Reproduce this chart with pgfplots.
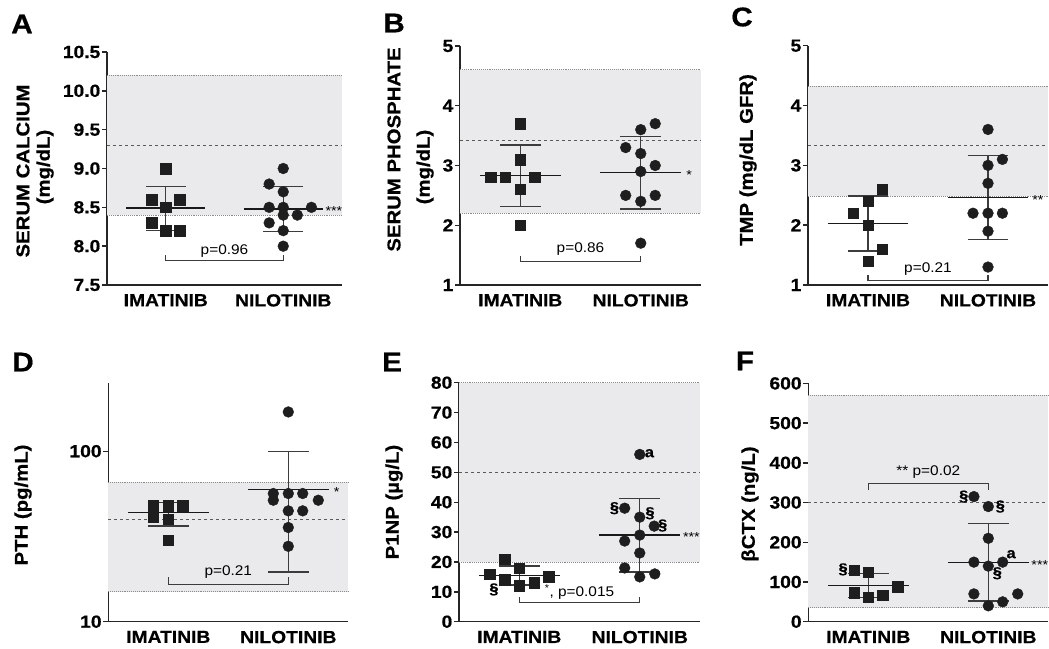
\documentclass[border=0pt]{standalone}
\usepackage{fontspec}
\setmainfont{Liberation Sans}[FakeStretch=1.1, BoldFeatures={FakeBold=0.6}]
\usepackage{pgfplots}
\pgfplotsset{compat=1.18}

\definecolor{mk}{HTML}{1E1E1E}
\definecolor{band}{HTML}{EAEAEC}
\definecolor{dots}{HTML}{8C8C8C}
\definecolor{dash}{HTML}{5A5A5A}
\definecolor{bar}{HTML}{3C3C3C}

\pgfplotsset{
  panel/.style={scale only axis, clip=false,
    axis x line=bottom, axis y line=left,
    axis line style={-, line width=1.4pt, black!85},
    xmin=0.5, xmax=2.5, xtick={1,2}, xticklabels={IMATINIB,NILOTINIB},
    x tick style={draw=none}, y tick style={line width=1.4pt, black!85},
    tick align=outside, major tick length=5pt, minor tick style={draw=none},
    tick label style={font=\fontsize{17.5}{19}\selectfont\bfseries},
    yticklabel style={inner sep=1.5pt},
    xticklabel style={inner sep=0pt, yshift=-4pt}},
  sq/.style={only marks, mark=square*, mark size=5.2pt, color=mk},
  ci/.style={only marks, mark=*, mark size=5.4pt, color=mk},
  meanl/.style={line width=1.4pt, color=black!90},
  sdl/.style={line width=1.4pt, color=bar},
  ref/.style={densely dotted, line width=0.9pt, color=dots},
  med/.style={dashed, line width=0.9pt, color=dash},
  brk/.style={line width=1.1pt, color=bar},
}

% mean and SD glyphs: mean, low, high
\newcommand\msdI[3]{%
  \addplot[sdl] coordinates {(1,#2) (1,#3)};
  \addplot[sdl] coordinates {(0.83,#2) (1.17,#2)};
  \addplot[sdl] coordinates {(0.83,#3) (1.17,#3)};
  \addplot[meanl] coordinates {(0.665,#1) (1.335,#1)};}
\newcommand\msdN[3]{%
  \addplot[sdl] coordinates {(2,#2) (2,#3)};
  \addplot[sdl] coordinates {(1.83,#2) (2.17,#2)};
  \addplot[sdl] coordinates {(1.83,#3) (2.17,#3)};
  \addplot[meanl] coordinates {(1.665,#1) (2.335,#1)};}
% reference range: low, high, median
\newcommand\band[3]{%
  \addplot[fill=band, draw=none] coordinates {(0.5,#1) (2.5,#1) (2.5,#2) (0.5,#2)};
  \addplot[ref] coordinates {(0.5,#1) (2.5,#1)};
  \addplot[ref] coordinates {(0.5,#2) (2.5,#2)};
  \addplot[med] coordinates {(0.5,#3) (2.5,#3)};}
% bracket: level, tick end
\newcommand\brk[2]{\addplot[brk] coordinates {(1,#2) (1,#1) (2,#1) (2,#2)};}

\newcommand\pfont{\fontsize{14}{16}\selectfont}
\newcommand\sfont{\fontsize{13}{15}\selectfont}
\newcommand\mfont{\fontsize{15}{17}\selectfont\bfseries}
\newcommand\lfont{\fontsize{18.5}{20}\selectfont\bfseries}
\newcommand\letfont{\fontsize{27}{30}\selectfont\bfseries}

\begin{document}
\begin{tikzpicture}
\path[use as bounding box] (0,0) rectangle (1049pt,-648pt);

% ---- A
\begin{axis}[panel, at={(107pt,-285pt)}, anchor=south west, width=235pt, height=233pt,
  ymin=7.5, ymax=10.5, ytick={7.5,8,8.5,9,9.5,10,10.5},
  yticklabels={7.5,8.0,8.5,9.0,9.5,10.0,10.5}]
\band{8.4}{10.2}{9.3}
\addplot[sq] coordinates {(1,9.0) (0.88,8.6) (1.12,8.6) (1,8.5) (0.88,8.3) (1,8.2) (1.12,8.2)};
\addplot[ci] coordinates {(2,9.0) (1.88,8.8) (2,8.7) (1.88,8.5) (2,8.5) (2.24,8.5) (2,8.4) (2.12,8.4) (1.88,8.3) (2,8.2) (2,8.0)};
\msdI{8.49}{8.2}{8.77}
\msdN{8.48}{8.19}{8.77}
\brk{7.81}{7.88}
\node[font=\pfont] at (axis cs:1.5,7.94) {p=0.96};
\node[font=\sfont, anchor=west] at (axis cs:2.33,8.45) {***};
\end{axis}

% ---- B
\begin{axis}[panel, at={(460pt,-285pt)}, anchor=south west, width=241pt, height=239pt,
  ymin=1, ymax=5, ytick={1,2,3,4,5}, yticklabels={1,2,3,4,5}]
\band{2.2}{4.6}{3.42}
\addplot[sq] coordinates {(1,3.7) (1,3.1) (0.755,2.8) (0.875,2.8) (1.12,2.8) (1,2.6) (1,2.0)};
\addplot[ci] coordinates {(2.12,3.7) (2,3.6) (1.875,3.3) (2,3.2) (2.12,3.0) (2,2.9) (1.875,2.5) (2.12,2.5) (2,2.4) (2,1.7)};
\msdI{2.83}{2.31}{3.34}
\msdN{2.88}{2.27}{3.49}
\brk{1.39}{1.49}
\node[font=\pfont] at (axis cs:1.5,1.6) {p=0.86};
\node[font=\sfont, anchor=west] at (axis cs:2.35,2.84) {*};
\end{axis}

% ---- C
\begin{axis}[panel, at={(808pt,-285pt)}, anchor=south west, width=240pt, height=239.3pt,
  ymin=1, ymax=5, ytick={1,2,3,4,5}, yticklabels={1,2,3,4,5}]
\band{2.48}{4.32}{3.33}
\addplot[sq] coordinates {(1.12,2.6) (1,2.4) (0.875,2.2) (1,2.0) (1.12,1.6) (1,1.4)};
\addplot[ci] coordinates {(2,3.6) (2.12,3.1) (2,3.0) (2,2.7) (1.875,2.2) (2,2.2) (2.12,2.2) (2,1.9) (2,1.3)};
\msdI{2.03}{1.57}{2.49}
\msdN{2.46}{1.76}{3.16}
\brk{1.07}{1.17}
\node[font=\pfont] at (axis cs:1.5,1.27) {p=0.21};
\node[font=\sfont, anchor=west] at (axis cs:2.34,2.42) {**};
\end{axis}

% ---- D
\begin{axis}[panel, at={(108.3pt,-621.7pt)}, anchor=south west, width=240pt, height=238.3pt,
  ymode=log, ymin=10, ymax=250, ytick={10,100}, yticklabels={10,100}]
\band{15}{66}{40}
\addplot[sq] coordinates {(0.875,48) (1,48) (1.12,48) (0.875,41) (1,40) (1,30)};
\addplot[ci] coordinates {(2,170) (1.875,56.5) (2,56.5) (2.12,56.5) (1.875,51.6) (2.25,51.6) (2,44.7) (2.12,44.7) (2,35.7) (2,27.7)};
\msdI{43.6}{36.5}{50}
\msdN{59.7}{19.6}{100}
\brk{16.6}{18.2}
\node[font=\pfont] at (axis cs:1.5,19.5) {p=0.21};
\node[font=\sfont, anchor=west] at (axis cs:2.35,58) {*};
\end{axis}

% ---- E
\begin{axis}[panel, at={(459pt,-621.7pt)}, anchor=south west, width=241pt, height=239pt,
  ymin=0, ymax=80, ytick={0,10,...,80}, yticklabels={0,10,20,30,40,50,60,70,80}]
\band{20}{80}{50}
\addplot[sq] coordinates {(0.88,21) (1,18) (0.755,16) (0.88,14) (1,12) (1.125,13) (1.245,15)};
\addplot[ci] coordinates {(2,56) (1.875,38) (2,35) (2.12,32) (2,29) (1.875,27) (2,23) (1.875,18) (2.125,16) (2,15)};
\msdI{15.5}{12.3}{18.7}
\msdN{29}{16.6}{41.3}
\brk{6.5}{8.2}
\node[font=\pfont] at (axis cs:1.5,10) {\textsuperscript{*}, p=0.015};
\node[font=\sfont, anchor=west] at (axis cs:2.33,28.3) {***};
\node[font=\mfont] at (axis cs:0.79,10.8) {§};
\node[font=\mfont] at (axis cs:1.79,38) {§};
\node[font=\mfont] at (axis cs:2.085,36.3) {§};
\node[font=\mfont] at (axis cs:2.19,32.2) {§};
\node[font=\mfont] at (axis cs:2.08,56.4) {a};
\end{axis}

% ---- F
\begin{axis}[panel, at={(808.3pt,-621.7pt)}, anchor=south west, width=240pt, height=238.3pt,
  ymin=0, ymax=600, ytick={0,100,...,600}, yticklabels={0,100,200,300,400,500,600}]
\band{35}{570}{300}
\addplot[sq] coordinates {(0.88,130) (1,125) (1.245,88) (0.88,73) (1,61) (1.12,67)};
\addplot[ci] coordinates {(1.88,315) (2,290) (2,210) (1.88,150) (2,140) (2.12,150) (1.88,70) (2.245,70) (2.12,50) (2,40)};
\msdI{90.7}{60.7}{121}
\msdN{148.5}{52}{247}
\brk{348}{331}
\node[font=\pfont] at (axis cs:1.5,378) {** p=0.02};
\node[font=\sfont, anchor=west] at (axis cs:2.33,143) {***};
\node[font=\mfont] at (axis cs:0.79,131.8) {§};
\node[font=\mfont] at (axis cs:1.795,315) {§};
\node[font=\mfont] at (axis cs:2.10,290) {§};
\node[font=\mfont] at (axis cs:2.075,122) {§};
\node[font=\mfont] at (axis cs:2.19,170) {a};
\end{axis}

% panel letters and axis titles
\node[font=\letfont] at (22pt,-24pt) {A};
\node[font=\letfont] at (394pt,-23pt) {B};
\node[font=\letfont] at (742pt,-17pt) {C};
\node[font=\letfont] at (23pt,-362pt) {D};
\node[font=\letfont] at (392pt,-362pt) {E};
\node[font=\letfont] at (745pt,-361pt) {F};

\node[font=\lfont, rotate=90] at (23pt,-171pt) {SERUM CALCIUM};
\node[font=\lfont, rotate=90] at (45pt,-167pt) {(mg/dL)};
\node[font=\lfont, rotate=90] at (394pt,-149.5pt) {SERUM PHOSPHATE};
\node[font=\lfont, rotate=90] at (425pt,-167pt) {(mg/dL)};
\node[font=\lfont, rotate=90] at (748pt,-160pt) {TMP (mg/dL GFR)};
\node[font=\lfont, rotate=90] at (23pt,-505pt) {PTH (pg/mL)};
\node[font=\lfont, rotate=90] at (394pt,-502pt) {P1NP (µg/L)};
\node[font=\lfont, rotate=90] at (750pt,-504pt) {βCTX (ng/L)};
\end{tikzpicture}
\end{document}
